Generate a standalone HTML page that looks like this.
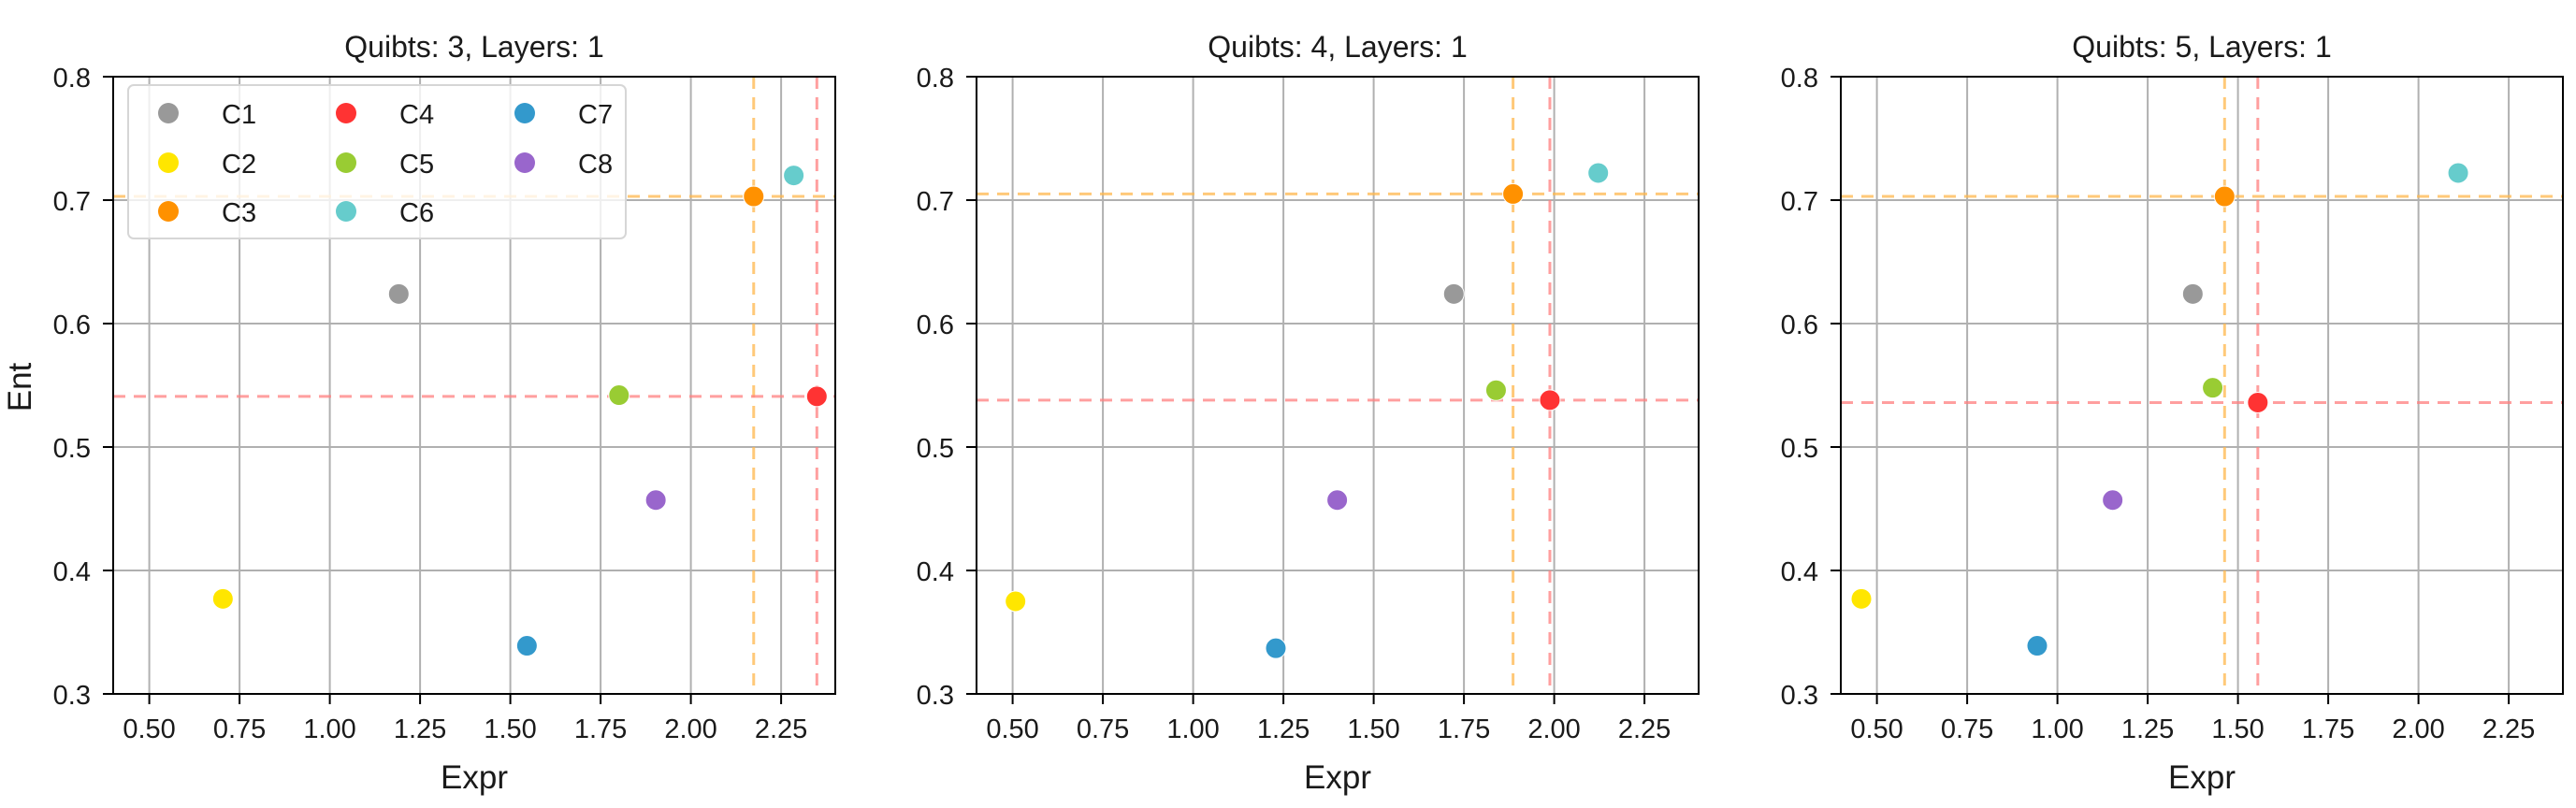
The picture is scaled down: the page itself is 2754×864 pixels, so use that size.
<!DOCTYPE html>
<html><head><meta charset="utf-8">
<style>
html,body{margin:0;padding:0;background:#fff;}
svg{display:block;}
text{font-family:"Liberation Sans","DejaVu Sans",sans-serif;fill:#1a1a1a;}
</style></head>
<body>
<svg id="fig" width="2754" height="864" viewBox="0 0 2754 864" xmlns="http://www.w3.org/2000/svg"></svg>
<script>
const categories = ["C1","C2","C3","C4","C5","C6","C7","C8"];
const colors = ["#999999","#ffe600","#ff9100","#ff3333","#99cc33","#66cccc","#3399cc","#9966cc"];
const titles = ["Quibts: 3, Layers: 1","Quibts: 4, Layers: 1","Quibts: 5, Layers: 1"];
const exprQ3 = [1.191,0.704,2.174,2.349,1.801,2.285,1.546,1.903];
const entQ3  = [0.624,0.377,0.703,0.541,0.542,0.720,0.339,0.457];
const exprQ4 = [1.722,0.508,1.886,1.988,1.839,2.122,1.229,1.399];
const entQ4  = [0.624,0.375,0.705,0.538,0.546,0.722,0.337,0.457];
const exprQ5 = [1.375,0.457,1.463,1.555,1.430,2.110,0.944,1.153];
const entQ5  = [0.624,0.377,0.703,0.536,0.548,0.722,0.339,0.457];
const xTicks = [0.5,0.75,1.0,1.25,1.5,1.75,2.0,2.25];
const xTickLabels = ["0.50","0.75","1.00","1.25","1.50","1.75","2.00","2.25"];
const yTicks = [0.3,0.4,0.5,0.6,0.7,0.8];
const yTickLabels = ["0.3","0.4","0.5","0.6","0.7","0.8"];
const xDomain = [0.4,2.4];
const yDomain = [0.3,0.8];

const NS = "http://www.w3.org/2000/svg";
const svg = document.getElementById('fig');
function mk(tag, attrs, parent){
  const e = document.createElementNS(NS, tag);
  for (const k in attrs) e.setAttribute(k, attrs[k]);
  (parent||svg).appendChild(e);
  return e;
}
const panels = [
  {left:121, xs:exprQ3, ys:entQ3},
  {left:1044, xs:exprQ4, ys:entQ4},
  {left:1968, xs:exprQ5, ys:entQ5}
];
const W = 772, TOP = 82, BOT = 742;

panels.forEach((p, pi) => {
  const g = mk('g', {});
  
  
  const X = v => p.left + (v - xDomain[0]) / (xDomain[1]-xDomain[0]) * W;
  const Y = v => BOT - (v - yDomain[0]) / (yDomain[1]-yDomain[0]) * (BOT-TOP);
  // grid
  xTicks.forEach((t,i) => {
    const l = mk('line', {x1:X(t), x2:X(t), y1:TOP, y2:BOT, stroke:'#b0b0b0', 'stroke-width':2}, g);
    
    
    mk('line', {x1:X(t), x2:X(t), y1:BOT, y2:BOT+11, stroke:'#000', 'stroke-width':2}, g);
    const tx = mk('text', {x:X(t), y:BOT+47, 'text-anchor':'middle', 'font-size':29}, g);
    tx.textContent = xTickLabels[i];
    
    
  });
  yTicks.forEach((t,i) => {
    const l = mk('line', {x1:p.left, x2:p.left+W, y1:Y(t), y2:Y(t), stroke:'#b0b0b0', 'stroke-width':2}, g);
    
    
    mk('line', {x1:p.left-11, x2:p.left, y1:Y(t), y2:Y(t), stroke:'#000', 'stroke-width':2}, g);
    const tx = mk('text', {x:p.left-24, y:Y(t)+11, 'text-anchor':'end', 'font-size':29}, g);
    tx.textContent = yTickLabels[i];
    
    
  });
  // reference dashed lines for C3 (orange) and C4 (red)
  [[2,'#ffb84d'],[3,'#ff8080']].forEach(([ci,col]) => {
    const h = mk('line', {x1:p.left, x2:p.left+W, y1:Y(p.ys[ci]), y2:Y(p.ys[ci]), stroke:col, 'stroke-width':3, 'stroke-dasharray':'13 9', opacity:0.75}, g);
    
    
    const v = mk('line', {x1:X(p.xs[ci]), x2:X(p.xs[ci]), y1:TOP, y2:BOT, stroke:col, 'stroke-width':3, 'stroke-dasharray':'13 9', opacity:0.75}, g);
    
    
  });
  // points
  categories.forEach((c,i) => {
    const pt = mk('circle', {cx:X(p.xs[i]), cy:Y(p.ys[i]), r:11, fill:colors[i], stroke:'#fff', 'stroke-width':1}, g);
    
    
  });
  // spines
  const fr = mk('rect', {x:p.left, y:TOP, width:W, height:BOT-TOP, fill:'none', stroke:'#000', 'stroke-width':2}, g);
  
  
  const tt = mk('text', {x:p.left+W/2, y:61, 'text-anchor':'middle', 'font-size':32}, g);
  tt.textContent = titles[pi];
  
  
  const xl = mk('text', {x:p.left+W/2, y:843, 'text-anchor':'middle', 'font-size':35}, g);
  xl.textContent = 'Expr';
  
  
});

// y axis title
const yl = mk('text', {x:0, y:0, 'text-anchor':'middle', 'font-size':35, transform:'translate(33,414) rotate(-90)'});
yl.textContent = 'Ent';



// legend
const lg = mk('g', {});


mk('rect', {x:137, y:91, width:532, height:164, rx:6, fill:'#fff', 'fill-opacity':0.8, stroke:'#d6d6d6', 'stroke-width':2}, lg);
const colX = [180, 370, 561];
const rowY = [121, 174, 226];
categories.forEach((c,i) => {
  const col = Math.floor(i/3), row = i%3;
  const e = mk('g', {}, lg);
  
  
  mk('circle', {cx:colX[col], cy:rowY[row], r:11, fill:colors[i]}, e);
  const t = mk('text', {x:colX[col]+57, y:rowY[row]+11, 'font-size':29}, e);
  t.textContent = c;
});
</script>
</body></html>
